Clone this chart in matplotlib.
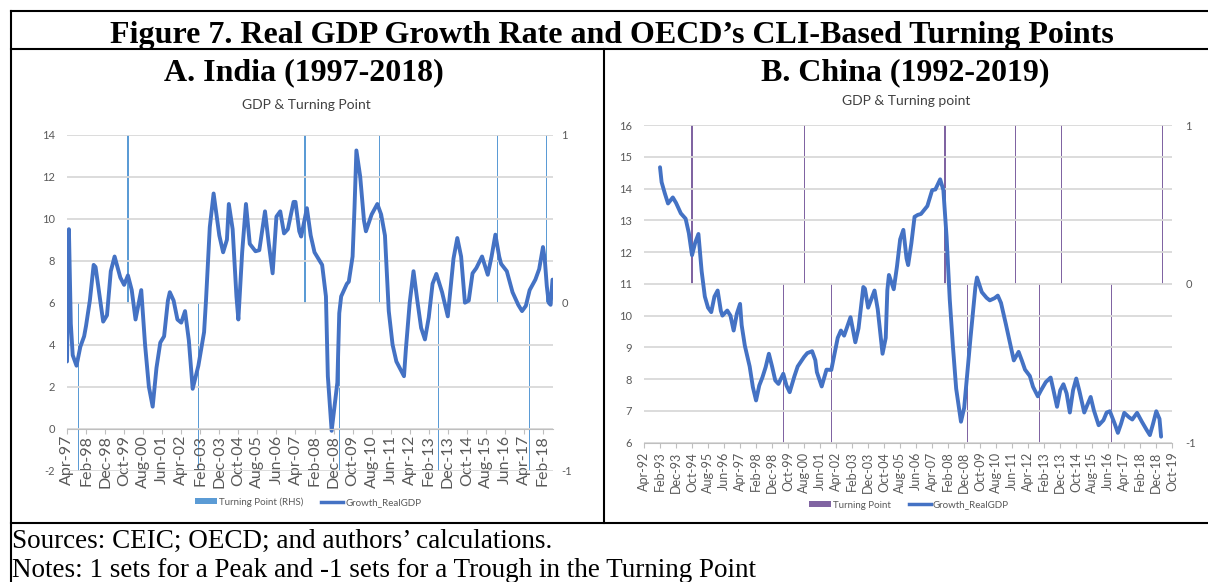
import numpy as np
import pandas as pd
import matplotlib
matplotlib.use('Agg')
import matplotlib.pyplot as plt
from matplotlib.lines import Line2D
from matplotlib.patches import Patch

plt.rcParams['font.family'] = ['Lato', 'DejaVu Sans']
plt.rcParams['axes.unicode_minus'] = False

# ---- India: real GDP growth (%)
india_start, india_end = '1997-04', '2018-07'
india_dates = [
    '1997-04', '1997-05', '1997-06', '1997-07', '1997-09', '1997-11',
    '1998-01', '1998-02', '1998-04', '1998-06', '1998-07', '1998-09', '1998-11',
    '1999-01', '1999-03', '1999-05', '1999-08', '1999-10', '1999-12',
    '2000-02', '2000-04', '2000-07', '2000-09', '2000-11',
    '2001-01', '2001-03', '2001-05', '2001-07', '2001-09', '2001-10', '2001-12',
    '2002-02', '2002-04', '2002-06', '2002-08', '2002-10',
    '2003-01', '2003-04', '2003-05', '2003-07', '2003-09', '2003-12',
    '2004-02', '2004-04', '2004-05', '2004-07', '2004-09', '2004-10', '2004-12',
    '2005-02', '2005-04', '2005-07', '2005-09', '2005-12',
    '2006-02', '2006-04', '2006-06', '2006-08', '2006-10', '2006-12',
    '2007-03', '2007-04', '2007-06', '2007-07', '2007-10', '2007-12',
    '2008-02', '2008-04', '2008-06', '2008-08', '2008-09', '2008-11',
    '2009-02', '2009-03', '2009-04', '2009-07', '2009-08', '2009-10', '2009-11', '2009-12',
    '2010-02', '2010-04', '2010-05', '2010-08', '2010-11',
    '2011-01', '2011-03', '2011-05', '2011-07', '2011-09',
    '2012-01', '2012-02', '2012-04', '2012-06', '2012-08', '2012-10', '2012-12',
    '2013-02', '2013-04', '2013-06', '2013-09', '2013-12',
    '2014-03', '2014-05', '2014-07', '2014-09', '2014-11',
    '2015-01', '2015-03', '2015-06', '2015-09', '2015-11',
    '2016-01', '2016-03', '2016-04', '2016-07', '2016-10',
    '2017-01', '2017-03', '2017-05', '2017-07', '2017-10', '2017-12',
    '2018-02', '2018-03', '2018-04', '2018-05', '2018-06', '2018-07',
]
india_gdp = [
    3.2, 9.5, 5.0, 3.5, 3.0, 3.9,
    4.4, 4.9, 6.1, 7.8, 7.7, 6.4, 5.1,
    5.4, 7.5, 8.2, 7.2, 6.85, 7.3,
    6.6, 5.2, 6.6, 4.0, 2.0,
    1.05, 2.9, 4.1, 4.4, 6.1, 6.5, 6.1,
    5.2, 5.05, 5.6, 4.2, 1.9,
    3.0, 4.6, 6.1, 9.6, 11.2, 9.2,
    8.4, 9.0, 10.7, 9.5, 6.3, 5.2, 8.4,
    10.7, 8.8, 8.45, 8.5, 10.35,
    8.8, 7.4, 10.1, 10.35, 9.3, 9.5,
    10.8, 10.8, 9.4, 9.15, 10.5, 9.2,
    8.4, 8.1, 7.8, 6.3, 2.5, -0.1,
    2.2, 5.5, 6.3, 6.9, 7.0, 8.2, 10.5, 13.25,
    12.0, 9.9, 9.4, 10.2, 10.7,
    10.2, 9.2, 5.6, 4.0, 3.2,
    2.5, 3.8, 6.0, 7.5, 6.1, 4.8, 4.25,
    5.3, 6.9, 7.37, 6.5, 5.35,
    8.1, 9.08, 8.2, 6.0, 6.1,
    7.4, 7.65, 8.2, 7.33, 8.2,
    9.24, 8.2, 7.85, 7.5, 6.5,
    5.9, 5.6, 5.85, 6.6, 7.1, 7.6,
    8.65, 8.0, 6.8, 6.0, 5.9, 7.1,
]
india_tp_dates = ['1997-10', '1999-12', '2003-01', '2007-09', '2009-03',
                  '2010-12', '2013-07', '2016-02', '2017-07', '2018-04']
india_tp = [-1, 1, -1, 1, -1, 1, -1, 1, -1, 1]

# ---- China: real GDP growth (%)
china_start, china_end = '1992-04', '2019-10'
china_dates = [
    '1993-02', '1993-03', '1993-05', '1993-07', '1993-10', '1993-12',
    '1994-03', '1994-06', '1994-08', '1994-10', '1994-12',
    '1995-02', '1995-04', '1995-06', '1995-08', '1995-10', '1995-12',
    '1996-02', '1996-04', '1996-05', '1996-08', '1996-10', '1996-12',
    '1997-02', '1997-04', '1997-05', '1997-07', '1997-10', '1997-12',
    '1998-02', '1998-04', '1998-06', '1998-08', '1998-10', '1998-12',
    '1999-02', '1999-04', '1999-07', '1999-09', '1999-11',
    '2000-02', '2000-04', '2000-08', '2000-10',
    '2001-01', '2001-03', '2001-04', '2001-07', '2001-10',
    '2002-01', '2002-03', '2002-05', '2002-07', '2002-09',
    '2003-01', '2003-04', '2003-06', '2003-09', '2003-10', '2003-12',
    '2004-04', '2004-06', '2004-09', '2004-11', '2004-12',
    '2005-01', '2005-04', '2005-06', '2005-08', '2005-10', '2005-12',
    '2006-01', '2006-03', '2006-05', '2006-07', '2006-09',
    '2007-01', '2007-04', '2007-06', '2007-09', '2007-11',
    '2008-01', '2008-03', '2008-05', '2008-07', '2008-10', '2008-12',
    '2009-02', '2009-04', '2009-07', '2009-08', '2009-11',
    '2010-02', '2010-04', '2010-07', '2010-09', '2010-11',
    '2011-02', '2011-05', '2011-07', '2011-10', '2011-12',
    '2012-02', '2012-05', '2012-07', '2012-10', '2012-12',
    '2013-03', '2013-06', '2013-08', '2013-10', '2013-12',
    '2014-02', '2014-04', '2014-06', '2014-08', '2014-10', '2014-12',
    '2015-03', '2015-05', '2015-07', '2015-09', '2015-12',
    '2016-03', '2016-05', '2016-07', '2016-10', '2016-12',
    '2017-02', '2017-04', '2017-07', '2017-09', '2017-12',
    '2018-03', '2018-06', '2018-08', '2018-10', '2018-12',
    '2019-02', '2019-03',
]
china_gdp = [
    14.67, 14.2, 13.85, 13.53, 13.72, 13.55,
    13.22, 13.05, 12.6, 11.9, 12.3,
    12.57, 11.4, 10.6, 10.25, 10.11, 10.6,
    10.79, 10.15, 10.0, 10.16, 10.0, 9.53,
    10.06, 10.37, 9.7, 9.05, 8.4, 7.75,
    7.33, 7.8, 8.06, 8.38, 8.8, 8.4,
    7.96, 7.85, 8.17, 7.8, 7.59,
    8.1, 8.4, 8.7, 8.82,
    8.88, 8.6, 8.22, 7.77, 8.3,
    8.29, 8.8, 9.3, 9.53, 9.37,
    9.95, 9.16, 9.6, 10.9, 10.85, 10.25,
    10.79, 10.2, 8.8, 9.3, 10.8,
    11.28, 10.83, 11.54, 12.4, 12.7, 11.8,
    11.59, 12.27, 13.11, 13.17, 13.2,
    13.45, 13.95, 13.97, 14.29, 13.95,
    12.48, 10.5, 9.01, 7.7, 6.66, 7.1,
    8.2, 9.33, 10.9, 11.2, 10.74,
    10.56, 10.48, 10.55, 10.63, 10.4,
    9.74, 9.05, 8.59, 8.86, 8.59,
    8.3, 8.1, 7.76, 7.46, 7.65,
    7.91, 8.05, 7.6, 7.13, 7.65,
    7.84, 7.55, 6.95, 7.65, 8.02, 7.62,
    6.95, 7.2, 7.44, 7.02, 6.55,
    6.71, 6.95, 6.99, 6.6, 6.31,
    6.6, 6.94, 6.8, 6.73, 6.94,
    6.66, 6.4, 6.24, 6.6, 6.99,
    6.75, 6.19,
]
china_tp_dates = ['1994-10', '1999-07', '2000-08', '2002-01', '2007-12', '2009-02',
                  '2011-08', '2012-11', '2014-01', '2016-08', '2019-04']
china_tp = [1, -1, 1, -1, 1, -1, 1, -1, 1, -1, 1]

W, H = 1208, 582
GRID = '#D9D9D9'
AXIS = '#BFBFBF'
TXT = '#595959'
LINE = '#4472C4'
SERIF = 'Liberation Serif'


def fx(px):
    return px / W


def fy(py):
    return 1 - py / H


def month_pos(dates, start):
    p0 = pd.Period(start, freq='M')
    return np.array([(pd.Period(d, freq='M') - p0).n for d in dates])


def panel(box, start, end, dates, gdp, tp_dates, tp, yticks, bar_color,
          xlab_size, zero_axis, xpad, lpad, rpad):
    left, top, right, bottom = box
    ax = fig.add_axes([fx(left), fy(bottom), (right - left) / W, (bottom - top) / H])
    ax2 = ax.twinx()
    ax.set_zorder(2)
    ax2.set_zorder(1)
    ax.patch.set_visible(False)

    months = pd.period_range(start, end, freq='M')
    ax2.bar(month_pos(tp_dates, start), tp, width=0.7, color=bar_color, linewidth=0)
    ax.plot(month_pos(dates, start), gdp, color=LINE, lw=2.8,
            solid_joinstyle='round', solid_capstyle='round')

    ax.set_xlim(0, len(months) - 1)
    ax.set_ylim(yticks[0], yticks[-1])
    ax.set_yticks(yticks)
    ax.yaxis.grid(True, color=GRID, lw=1.3)
    ax.set_axisbelow(True)
    ax.set_xticks(np.arange(0, len(months), 10))
    ax.set_xticklabels([p.strftime('%b-%y') for p in months[::10]])

    ax2.set_ylim(-1, 1)
    ax2.set_yticks([-1, 0, 1])

    for a in (ax, ax2):
        for s in a.spines.values():
            s.set_visible(False)
    ax.spines['bottom'].set_visible(True)
    ax.spines['bottom'].set_color(AXIS)
    if zero_axis:
        ax.spines['bottom'].set_position(('data', 0))

    ax.tick_params(axis='x', length=3.5, color=AXIS, labelsize=xlab_size,
                   labelcolor=TXT, labelrotation=90, pad=xpad)
    ax.tick_params(axis='y', length=0, labelsize=8, labelcolor=TXT, pad=lpad)
    ax2.tick_params(axis='y', length=0, labelsize=8, labelcolor=TXT, pad=rpad)
    return ax


def legend(cx, cy, bar_color, bar_label):
    handles = [Patch(facecolor=bar_color, edgecolor='none'),
               Line2D([], [], color=LINE, lw=2.5)]
    fig.legend(handles, [bar_label, 'Growth_RealGDP'], loc='center',
               bbox_to_anchor=(fx(cx), fy(cy)), ncol=2, frameon=False,
               fontsize=7, labelcolor=TXT, handlelength=2.3, handleheight=0.6,
               handletextpad=0.2, columnspacing=1.8)


fig = plt.figure(figsize=(W / 100, H / 100), dpi=100)

# frame of the table around both charts
frame = [([11, W], [11, 11]), ([11, W], [49, 49]), ([11, W], [523, 523]),
         ([11, 11], [11, H]), ([604, 604], [49, 523])]
for xs, ys in frame:
    fig.add_artist(Line2D([fx(x) for x in xs], [fy(y) for y in ys],
                          color='black', lw=1.5, transform=fig.transFigure))

fig.text(fx(612), fy(42.5), 'Figure 7. Real GDP Growth Rate and OECD\u2019s CLI-Based Turning Points',
         ha='center', va='baseline', family=SERIF, weight='bold', fontsize=23)
fig.text(fx(304), fy(80), 'A. India (1997-2018)', ha='center', va='baseline',
         family=SERIF, weight='bold', fontsize=23)
fig.text(fx(905), fy(80), 'B. China (1992-2019)', ha='center', va='baseline',
         family=SERIF, weight='bold', fontsize=23)
fig.text(fx(306), fy(109), 'GDP & Turning Point', ha='center', va='baseline',
         fontsize=10, color='#404040')
fig.text(fx(906), fy(105), 'GDP & Turning point', ha='center', va='baseline',
         fontsize=10, color='#404040')

panel((67, 134.7, 552.5, 470.7), india_start, india_end, india_dates, india_gdp,
      india_tp_dates, india_tp, np.arange(-2, 15, 2), '#5B9BD5',
      11.5, True, 1, 8.5, 6.5)
panel((644, 125, 1172.3, 442.7), china_start, china_end, china_dates, china_gdp,
      china_tp_dates, china_tp, np.arange(6, 17, 1), '#8064A2',
      9, False, 3, 8.4, 9.5)

legend(308, 502, '#5B9BD5', 'Turning Point (RHS)')
legend(909, 505, '#8064A2', 'Turning Point')

fig.text(fx(12), fy(548), 'Sources: CEIC; OECD; and authors\u2019 calculations.',
         ha='left', va='baseline', family=SERIF, fontsize=19.5)
fig.text(fx(12), fy(577), 'Notes: 1 sets for a Peak and -1 sets for a Trough in the Turning Point',
         ha='left', va='baseline', family=SERIF, fontsize=19.5)

fig.savefig('out.png', dpi=100)
